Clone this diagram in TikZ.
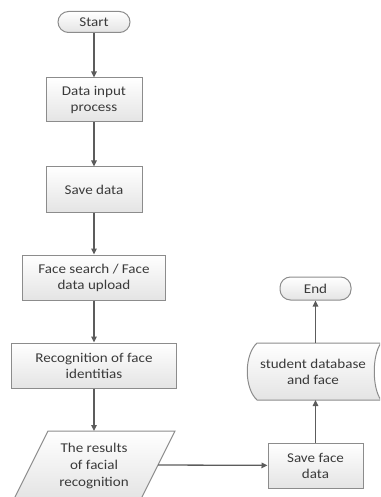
\documentclass[tikz,border=0pt]{standalone}
\usepackage{fontspec}
\setmainfont{Carlito}[FakeStretch=1.12]
\usetikzlibrary{arrows.meta}
\definecolor{lineg}{HTML}{8C8C8C}
\definecolor{arrg}{HTML}{5C5C5C}
\definecolor{fillg}{HTML}{E4E4E4}
\definecolor{txtg}{HTML}{3A3A3A}
\begin{document}
\begin{tikzpicture}[x=1bp,y=-1bp,
  txt/.style={align=center, text=txtg, font=\fontsize{13.5}{16}\selectfont, inner sep=0pt},
  box/.style={txt, draw=lineg, line width=1bp, top color=white, bottom color=fillg},
  term/.style={box, rounded corners=10.5bp},
  shp/.style={draw=lineg, line width=1bp, top color=white, bottom color=fillg},
  arr/.style={draw=arrg, line width=1.3bp, -{Triangle[width=5.5bp,length=6bp]}}]
\useasboundingbox (0,0) rectangle (380,497);
\clip (0,0) rectangle (380,497);
% left column
\node[term, minimum width=72bp, minimum height=21bp] (start) at (94,22) {Start};
\node[box, minimum width=96bp, minimum height=44bp] (input) at (94,100) {Data input\\process};
\node[box, minimum width=96bp, minimum height=45bp] (save) at (94,189.5) {Save data};
\node[box, minimum width=142bp, minimum height=45bp] (search) at (94,277.5) {Face search / Face\\data upload};
\node[box, minimum width=165bp, minimum height=45bp] (recog) at (94,365.5) {Recognition of face\\identitias};
% parallelogram
\path[shp] (48,431) -- (175,431) -- (141,499) -- (14,499) -- cycle;
\coordinate (resT) at (94,431);
\coordinate (resR) at (158,465);
\node[txt, font=\fontsize{13.5}{17.5}\selectfont] (res) at (94,466) {The results\\of facial\\recognition};
% right column
\node[box, minimum width=95bp, minimum height=45bp] (saveface) at (315.5,465.5) {Save face\\data};
\path[shp] (257,343) -- (381,343) .. controls (372,355) and (372,388) .. (381,400)
  -- (257,400) .. controls (244,388) and (244,355) .. (257,343) -- cycle;
\coordinate (studT) at (315.5,343);
\coordinate (studB) at (315.5,400);
\node[txt] (stud) at (313,371.5) {student database\\and face};
\node[term, minimum width=71bp, minimum height=23bp] (end) at (315.5,288.5) {End};
% connectors
\draw[arr] (start) -- (input);
\draw[arr] (input) -- (save);
\draw[arr] (save) -- (search);
\draw[arr] (search) -- (recog);
\draw[arr] (recog) -- (resT);
\draw[arr] (resR) -- (saveface);
\draw[arr] (saveface) -- (studB);
\draw[arr] (studT) -- (end);
\end{tikzpicture}
\end{document}
